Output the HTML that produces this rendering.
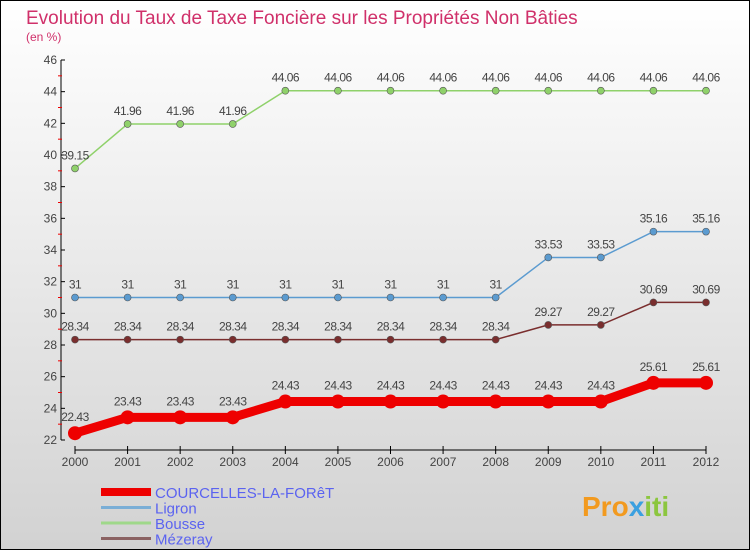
<!DOCTYPE html>
<html><head><meta charset="utf-8"><style>
body{margin:0}
svg{display:block;font-family:"Liberation Sans",sans-serif}
</style></head><body>
<svg id="c" width="750" height="550" viewBox="0 0 750 550" xmlns="http://www.w3.org/2000/svg">
<defs><linearGradient id="bg" x1="0" y1="0" x2="0" y2="1"><stop offset="0" stop-color="#ffffff"/><stop offset="1" stop-color="#d2d2d2"/></linearGradient></defs>
<rect x="0.5" y="0.5" width="749" height="549" fill="url(#bg)" stroke="#000"/>
<text x="26" y="24" font-size="19" fill="#d0306a">Evolution du Taux de Taxe Foncière sur les Propriétés Non Bâties</text>
<text x="26" y="41" font-size="12" fill="#d0306a">(en %)</text>
<g id="axes"></g><g id="series"></g><g id="legend"></g>
<text x="582" y="516" font-size="28" font-weight="bold" fill="#f29a1f">Pro<tspan fill="#3aa0e0">x</tspan><tspan fill="#8cc63f">iti</tspan></text>
</svg>
<script>
const years=[2000,2001,2002,2003,2004,2005,2006,2007,2008,2009,2010,2011,2012];
const yTicks=[22,24,26,28,30,32,34,36,38,40,42,44,46];
const courcelles=[22.43,23.43,23.43,23.43,24.43,24.43,24.43,24.43,24.43,24.43,24.43,25.61,25.61];
const ligron=[31,31,31,31,31,31,31,31,31,33.53,33.53,35.16,35.16];
const bousse=[39.15,41.96,41.96,41.96,44.06,44.06,44.06,44.06,44.06,44.06,44.06,44.06,44.06];
const mezeray=[28.34,28.34,28.34,28.34,28.34,28.34,28.34,28.34,28.34,29.27,29.27,30.69,30.69];
const NS="http://www.w3.org/2000/svg";
const X=i=>75+i*(706-75)/(years.length-1);
const Y=v=>440-(v-22)*(380/24);
function mk(t,a,p){const e=document.createElementNS(NS,t);for(const k in a)e.setAttribute(k,a[k]);p.appendChild(e);return e;}
const ax=document.getElementById('axes');
let e=mk('line',{x1:61,y1:60,x2:61,y2:440,stroke:'#000'},ax);


yTicks.forEach(v=>{
  mk('line',{x1:61,y1:Y(v),x2:65,y2:Y(v),stroke:'#000'},ax);
  if(v<46)mk('line',{x1:58,y1:Y(v+1),x2:62,y2:Y(v+1),stroke:'#e00'},ax);
  const t=mk('text',{x:57,y:Y(v)+4,'font-size':12,'text-anchor':'end',fill:'#444'},ax);t.textContent=v;
  
  
});
e=mk('line',{x1:75,y1:450,x2:706,y2:450,stroke:'#000'},ax);


years.forEach((y,i)=>{
  mk('line',{x1:X(i),y1:446,x2:X(i),y2:454,stroke:'#000'},ax);
  const t=mk('text',{x:X(i),y:466,'font-size':12,'text-anchor':'middle',fill:'#444'},ax);t.textContent=y;
  
  
});
const sg=document.getElementById('series');
function series(d,col,w,r,name){
  const g=mk('g',{},sg);
  
  
  let pts=[];d.forEach((v,i)=>{pts.push(X(i)+','+Y(v));if(i>0&&d[i]!=d[i-1]){}});
  mk('polyline',{points:pts.join(' '),fill:'none',stroke:col,'stroke-width':w},g);
  d.forEach((v,i)=>{
    const c=mk('circle',{cx:X(i),cy:Y(v),r:r,fill:col,stroke:w>3?col:'#555','stroke-width':w>3?0:0.6},g);
    
    
    const t=mk('text',{x:X(i),y:Y(v)-(w>3?12:9),'font-size':12,'text-anchor':'middle',fill:'#444','letter-spacing':'-0.5'},g);t.textContent=v;
    
    
  });
}
series(bousse,'#8fd16a',1.5,3.5,'bousse');
series(ligron,'#5b9bd0',1.5,3.5,'ligron');
series(mezeray,'#7a2e2e',1.5,3.5,'mezeray');
series(courcelles,'#ee0000',9,7,'courcelles');
const lg=document.getElementById('legend');
[['COURCELLES-LA-FORêT','#ee0000',8],['Ligron','#7aaed6',3],['Bousse','#9fd88a',3],['Mézeray','#8b6262',3]].forEach((l,i)=>{
  const y=492+i*15.5;
  const ln=mk('line',{x1:101,y1:y,x2:151,y2:y,stroke:l[1],'stroke-width':l[2]},lg);
  
  
  const t=mk('text',{x:155,y:y+6,'font-size':15,fill:'#5b63f0'},lg);t.textContent=l[0];
  
  
});
</script>
</body></html>
